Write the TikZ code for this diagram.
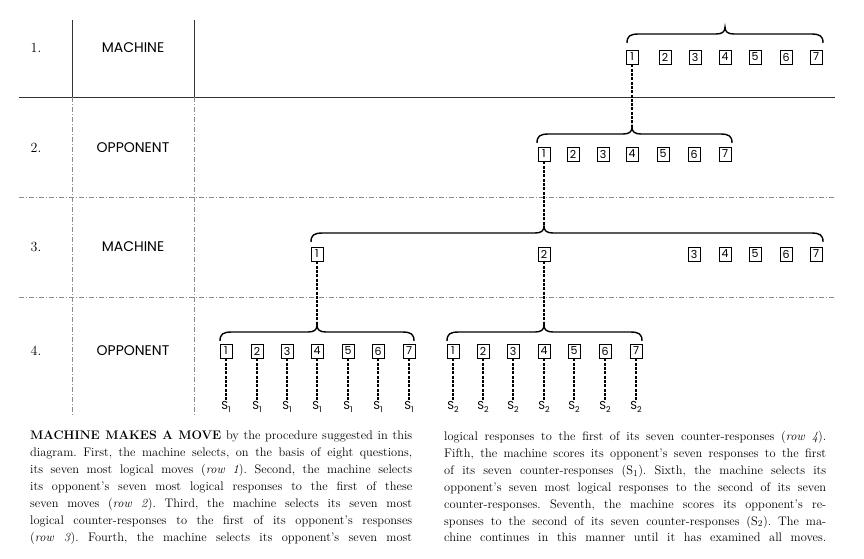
\documentclass[tikz,border=0pt]{standalone}
\usepackage{fontspec}
\newfontfamily\gothic{Poppins}
\usetikzlibrary{calc}

% brace over a row of moves: left x, tip x, right x, y
\newcommand{\movebrace}[4]{%
  \draw[bracket] (#1,#4+9) .. controls (#1,#4+2) and (#1+3,#4) .. (#1+12,#4)
    -- (#2-9,#4) .. controls (#2-3,#4) and (#2,#4-2) .. (#2,#4-7)
    .. controls (#2,#4-2) and (#2+3,#4) .. (#2+9,#4)
    -- (#3-12,#4) .. controls (#3-3,#4) and (#3,#4+2) .. (#3,#4+9);}

\begin{document}
\begin{tikzpicture}[x=1pt, y=-1pt,
    movebox/.style={draw, line width=0.9pt, minimum width=12pt, minimum height=14pt,
      inner sep=0pt, font=\gothic\fontsize{11}{11}\selectfont},
    score/.style={inner sep=1pt, font=\gothic\fontsize{11.5}{11.5}\selectfont},
    link/.style={line width=1.3pt, dash pattern=on 3pt off 1.3pt},
    bracket/.style={line width=1.4pt},
    rule/.style={black!80, line width=0.6pt},
    faintrule/.style={black!45, line width=0.5pt, dash pattern=on 5pt off 2pt on 1pt off 2pt},
    rownum/.style={font=\fontsize{14}{14}\selectfont},
    rowname/.style={font=\gothic\fontsize{14}{14}\selectfont},
    caption/.style={anchor=north west, inner sep=0pt, text width=382pt, align=justify,
      font=\fontsize{12.4}{16.9}\selectfont}]
    \useasboundingbox (0,0) rectangle (864,559);

    % Grid
    \draw[rule] (19,97) -- (835,97);
    \draw[faintrule] (19,197) -- (835,197);
    \draw[faintrule] (19,297) -- (835,297);
    \draw[rule] (72,20) -- (72,97);
    \draw[faintrule] (72,97) -- (72,417);
    \draw[rule] (194,20) -- (194,97);
    \draw[faintrule] (194,97) -- (194,417);

    % Row labels
    \node[rownum] (n1) at (36,48) {1.};
    \node[rowname] (r1) at (133,48) {MACHINE};
    \node[rownum] (n2) at (36,148) {2.};
    \node[rowname] (r2) at (133,148) {OPPONENT};
    \node[rownum] (n3) at (36,247) {3.};
    \node[rowname] (r3) at (133,247) {MACHINE};
    \node[rownum] (n4) at (36,351) {4.};
    \node[rowname] (r4) at (133,351) {OPPONENT};

    % Row 1
    \movebrace{627}{725}{823}{34}
    \foreach \x [count=\i] in {632,665,695,725,755,786,816}
      \node[movebox] (a\i) at (\x,57) {\i};

    % Row 2
    \coordinate (tip2) at (632,127);
    \draw[link] (a1.south) -- (tip2);
    \movebrace{537}{632}{732}{134}
    \foreach \x [count=\i] in {544,573,603,632,663,694,725}
      \node[movebox] (b\i) at (\x,154) {\i};

    % Row 3
    \coordinate (tip3) at (544,226);
    \draw[link] (b1.south) -- (tip3);
    \movebrace{311}{544}{823}{233}
    \foreach \x [count=\i] in {317,544,694,725,755,786,816}
      \node[movebox] (c\i) at (\x,254) {\i};

    % Row 4
    \coordinate (tip4) at (317,325);
    \coordinate (tip5) at (544,325);
    \draw[link] (c1.south) -- (tip4);
    \draw[link] (c2.south) -- (tip5);
    \movebrace{220}{317}{414}{332}
    \movebrace{447}{544}{642}{332}
    \foreach \x [count=\i] in {226,257,287,317,348,378,409} {
      \node[movebox] (d\i) at (\x,351) {\i};
      \node[score] (s\i) at (\x,407) {S\raisebox{-2.5pt}{\fontsize{8}{8}\selectfont 1}};
      \draw[link] (d\i.south) -- (s\i.north);
    }
    \foreach \x [count=\i] in {453,483,513,544,574,605,636} {
      \node[movebox] (e\i) at (\x,351) {\i};
      \node[score] (t\i) at (\x,407) {S\raisebox{-2.5pt}{\fontsize{8}{8}\selectfont 2}};
      \draw[link] (e\i.south) -- (t\i.north);
    }

    % Caption
    \node[caption] (capl) at (30,431) {\frenchspacing\hyphenpenalty=10000\parfillskip=0pt
      \textbf{MACHINE MAKES A MOVE} by the procedure suggested in this\linebreak
      diagram. First, the machine selects, on the basis of eight questions,\linebreak
      its seven most logical moves (\textit{row 1}). Second, the machine selects\linebreak
      its opponent's seven most logical responses to the first of these\linebreak
      seven moves (\textit{row 2}). Third, the machine selects its seven most\linebreak
      logical counter-responses to the first of its opponent's responses\linebreak
      (\textit{row 3}). Fourth, the machine selects its opponent's seven most\par};
    \node[caption] (capr) at (444,431) {\frenchspacing\hyphenpenalty=10000\parfillskip=0pt
      logical responses to the first of its seven counter-responses (\textit{row 4}).\linebreak
      Fifth, the machine scores its opponent's seven responses to the first\linebreak
      of its seven counter-responses (S$_1$). Sixth, the machine selects its\linebreak
      opponent's seven most logical responses to the second of its seven\linebreak
      counter-responses. Seventh, the machine scores its opponent's re-\linebreak
      sponses to the second of its seven counter-responses (S$_2$). The ma-\linebreak
      chine continues in this manner until it has examined all moves.\par};
\end{tikzpicture}
\end{document}
